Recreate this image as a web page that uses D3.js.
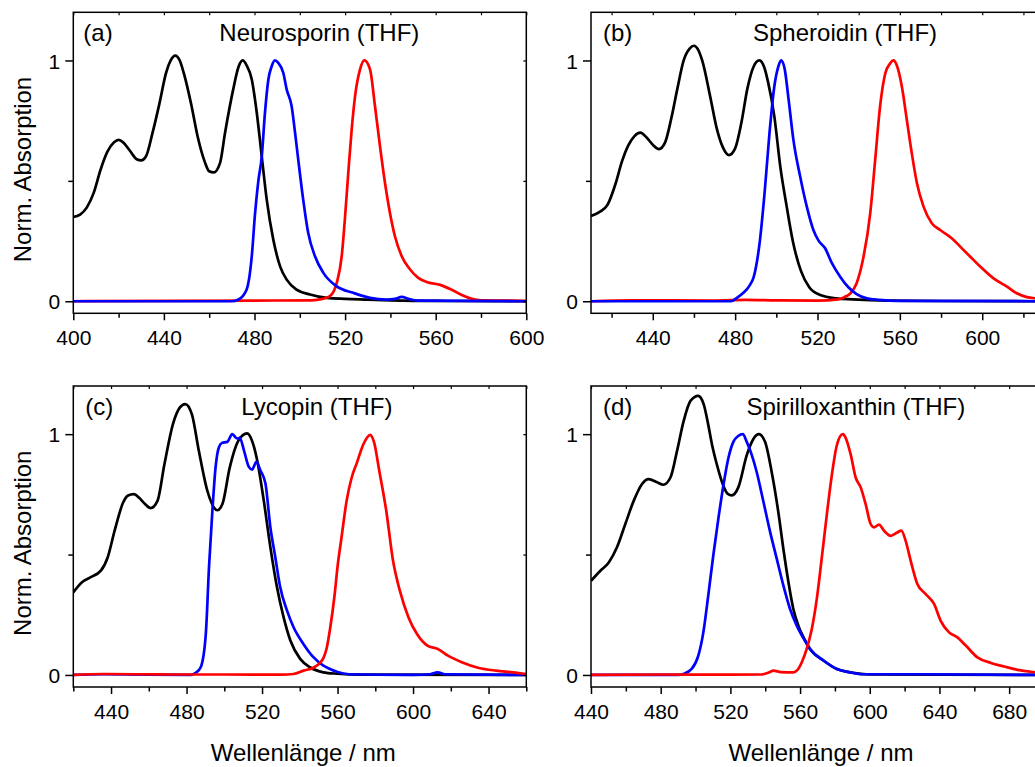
<!DOCTYPE html>
<html>
<head>
<meta charset="utf-8">
<script src="https://cdn.jsdelivr.net/npm/d3@7"></script>
<style>
  html, body { margin: 0; padding: 0; background: #fff; }
  svg { display: block; }
  text { font-family: "Liberation Sans", Arial, sans-serif; fill: #000; }
</style>
</head>
<body>
<svg id="chart" width="1035" height="767"></svg>
<script>
// ---------------- data (wavelength nm, normalized value) ----------------
const panelLabels = ["(a)", "(b)", "(c)", "(d)"];
const panelTitles = ["Neurosporin (THF)", "Spheroidin (THF)", "Lycopin (THF)", "Spirilloxanthin (THF)"];
const xDomains = [[400, 600], [410, 630], [420, 660], [440, 700]];
const xMajorTicks = [
  [400, 440, 480, 520, 560, 600],
  [440, 480, 520, 560, 600],
  [440, 480, 520, 560, 600, 640],
  [440, 480, 520, 560, 600, 640, 680]
];
const yMajorTicks = [0, 1];
const yMinorTicks = [0.5];
const xAxisTitle = "Wellenlänge / nm";
const yAxisTitle = "Norm. Absorption";

// Neurosporin
const neuroAbs = [[400,0.35],[403,0.36],[406,0.39],[409,0.45],[412,0.545],[415,0.62],[418,0.66],[420,0.67],[422,0.66],[425,0.625],[428,0.59],[430,0.585],[432,0.60],[435,0.70],[438,0.82],[441,0.95],[443,1.0],[445,1.02],[447,1.0],[449,0.94],[452,0.82],[455,0.68],[458,0.58],[460,0.54],[462,0.535],[464.8,0.575],[467,0.70],[470.6,0.88],[473,0.975],[474.8,1.0],[476.5,0.98],[478.8,0.921],[481,0.783],[483.2,0.602],[485.4,0.422],[488.3,0.256],[491.3,0.145],[494.2,0.09],[498.6,0.048],[504.5,0.028],[511.9,0.014],[520,0.01],[530,0.007],[540,0.004],[550,0.002],[565,0.001],[600,0]];
const neuroBlue = [[400,0],[470,0],[472.9,0.007],[476.5,0.048],[478.8,0.187],[480.2,0.36],[481.7,0.50],[483.2,0.60],[484.6,0.78],[486.1,0.92],[487.6,0.976],[489,1.0],[490.5,0.99],[492.7,0.949],[494.2,0.88],[496.4,0.81],[497.9,0.70],[499.3,0.589],[501.5,0.422],[503.7,0.284],[506.7,0.187],[510.4,0.118],[516.3,0.062],[523.6,0.035],[531,0.014],[538.3,0.007],[542,0.01],[545,0.018],[548,0.01],[552,0.003],[600,0]];
const neuroRed = [[400,0],[480,0.003],[505,0.004],[510,0.01],[513.3,0.021],[516.3,0.076],[518.5,0.187],[520,0.353],[521.4,0.533],[522.9,0.713],[524.4,0.852],[526.6,0.963],[528.5,1.0],[531,0.963],[533.2,0.81],[535.4,0.644],[537.6,0.492],[539.8,0.367],[542,0.27],[545,0.187],[548.7,0.132],[552.3,0.097],[556,0.08],[562,0.068],[567,0.048],[572,0.024],[576,0.01],[580,0.004],[600,0.002]];

// Spheroidin
const spheroAbs = [[410,0.354],[414,0.37],[418,0.40],[422,0.49],[425,0.58],[428,0.645],[431,0.685],[434,0.70],[437,0.68],[440,0.65],[443,0.632],[446,0.66],[449,0.76],[452,0.885],[455,1.0],[458,1.05],[460,1.061],[462,1.045],[464,1.0],[468,0.845],[471,0.72],[474,0.64],[477,0.607],[480,0.635],[483,0.74],[486,0.885],[489,0.975],[491.7,1.0],[494,0.975],[496,0.91],[499,0.77],[502,0.555],[505,0.395],[508,0.25],[512,0.125],[516,0.058],[521,0.027],[529,0.012],[537,0.008],[554,0.003],[580,0.001],[630,0]];
const spheroBlue = [[410,0],[478,0],[481,0.015],[484,0.035],[487,0.065],[489,0.10],[492,0.25],[494.5,0.47],[496.7,0.70],[499,0.89],[501,0.975],[502.3,1.0],[504,0.967],[506,0.835],[508.3,0.67],[511.6,0.517],[514.8,0.393],[518,0.296],[520.5,0.252],[523.7,0.22],[527,0.158],[531,0.102],[535,0.058],[539,0.03],[544,0.012],[550,0.006],[560,0.002],[630,0]];
const spheroRed = [[410,0],[430,0.004],[470,0.003],[485,0.006],[500,0.004],[520,0.003],[530,0.008],[533,0.017],[536,0.033],[539,0.075],[542,0.17],[545.6,0.365],[548,0.586],[550.4,0.81],[552.9,0.946],[555.3,0.988],[556.9,1.0],[558.5,0.98],[561,0.89],[563.4,0.752],[565.8,0.614],[568.3,0.49],[571.5,0.393],[575.5,0.324],[579.6,0.296],[585.3,0.261],[589.3,0.227],[594.2,0.185],[599,0.144],[605.5,0.095],[612,0.061],[616.8,0.033],[621.7,0.017],[626,0.012],[630,0.01]];

// Lycopin
const lycoAbs = [[420,0.343],[424.6,0.385],[429,0.405],[434.6,0.433],[438.2,0.488],[441.9,0.599],[446.4,0.716],[449,0.745],[452,0.751],[455,0.735],[458,0.71],[461,0.693],[464.6,0.723],[468.3,0.876],[472.8,1.042],[476.5,1.111],[479.3,1.125],[482.8,1.083],[486.5,0.931],[491,0.765],[496.3,0.684],[499,0.71],[502.9,0.862],[507.4,0.972],[512.1,1.003],[514.8,0.97],[517.4,0.892],[520.9,0.725],[524.4,0.531],[527.9,0.365],[531.4,0.24],[535,0.143],[540.2,0.067],[545.4,0.032],[552.5,0.011],[560,0.005],[573,0.001],[660,0]];
const lycoBlue = [[420,0],[436,0.003],[482.3,0],[485,0.01],[487.5,0.032],[490.2,0.17],[491.9,0.448],[493.7,0.684],[495.4,0.864],[497.2,0.947],[498.9,0.964],[501.6,0.968],[504.2,1.0],[506.8,0.982],[508.2,0.985],[510.4,0.933],[513,0.864],[514.7,0.853],[517,0.885],[519.1,0.85],[521.8,0.795],[524.4,0.614],[527,0.49],[529.6,0.365],[533.2,0.268],[536.7,0.198],[541.9,0.129],[547.2,0.074],[552.5,0.039],[556,0.025],[560,0.012],[566,0.003],[600,0],[609,0.003],[613,0.011],[617,0.003],[660,0]];
const lycoRed = [[420,0],[436,0.004],[470,0.002],[500,0.002],[530,0.001],[536.7,0.004],[542,0.018],[547.2,0.03],[550.7,0.05],[552.5,0.07],[554.2,0.11],[556,0.19],[558.4,0.33],[560,0.45],[562.1,0.571],[564.8,0.723],[567.5,0.82],[570.3,0.882],[573,0.945],[575.7,0.986],[577.2,0.997],[579.4,0.965],[582.1,0.848],[585.8,0.682],[589.4,0.474],[593,0.35],[597.6,0.239],[602.1,0.17],[607.6,0.122],[613.1,0.108],[618.5,0.08],[625.8,0.053],[634.9,0.029],[644,0.018],[653.1,0.011],[660,0.004]];

// Spirilloxanthin
const spiriAbs = [[440,0.391],[445.4,0.433],[450.2,0.467],[454.9,0.53],[459.7,0.627],[464.5,0.723],[469.3,0.793],[473.1,0.813],[477.9,0.80],[481.5,0.79],[485.6,0.82],[489.4,0.931],[493.2,1.055],[497.1,1.138],[501.5,1.159],[504.7,1.124],[507,1.05],[509.5,0.955],[512.2,0.875],[516,0.785],[518.5,0.752],[520.8,0.746],[524.6,0.78],[529.4,0.913],[533.2,0.98],[536.4,1.0],[539.9,0.968],[543.7,0.843],[547.5,0.677],[550.4,0.524],[553.3,0.386],[556.1,0.275],[559,0.205],[561.9,0.157],[565.7,0.108],[573.4,0.06],[581.1,0.025],[588.7,0.011],[600,0.002],[700,0]];
const spiriBlue = [[440,0],[490,0],[493,0.004],[497.8,0.025],[501.6,0.08],[504.5,0.178],[507.3,0.33],[510.2,0.497],[513.1,0.649],[516,0.788],[518.8,0.899],[521.7,0.968],[524.6,0.993],[527.1,1.0],[529.4,0.968],[532.3,0.913],[535.1,0.843],[539,0.718],[542.8,0.594],[546.6,0.483],[550.4,0.372],[554.2,0.275],[558.1,0.205],[561.9,0.153],[565.7,0.108],[573.4,0.06],[581.1,0.025],[588.7,0.011],[596,0.003],[620,0.003],[700,0]];
const spiriRed = [[440,0],[480,0.002],[520,0.001],[538,0.002],[542,0.01],[544.7,0.018],[549,0.012],[556.1,0.011],[558.4,0.02],[561,0.053],[563.8,0.108],[566.7,0.19],[569.6,0.316],[572.4,0.483],[575.3,0.663],[578.2,0.829],[581.1,0.954],[584.5,1.0],[586.1,0.986],[589,0.917],[591.9,0.82],[594.8,0.779],[597.6,0.71],[600.5,0.627],[602.4,0.613],[605.3,0.624],[608.2,0.599],[612,0.578],[615.8,0.592],[618.1,0.599],[620.6,0.557],[623.5,0.474],[627.3,0.378],[632.1,0.336],[636.9,0.295],[640.7,0.225],[645.5,0.177],[650.3,0.156],[655.1,0.122],[661.8,0.073],[669.5,0.05],[677.1,0.035],[684.8,0.021],[695.3,0.011],[700,0.009]];

const panelSeries = [
  [neuroAbs, neuroRed, neuroBlue],
  [spheroAbs, spheroRed, spheroBlue],
  [lycoAbs, lycoBlue, lycoRed],
  [spiriAbs, spiriBlue, spiriRed]
];
const panelColors = [
  ["#000000", "#ff0000", "#0000ff"],
  ["#000000", "#ff0000", "#0000ff"],
  ["#000000", "#0000ff", "#ff0000"],
  ["#000000", "#0000ff", "#ff0000"]
];

// ---------------- layout ----------------
const svg = d3.select("#chart");
const W = 453, H = 301;
const lefts = [73.3, 591, 73.3, 591];
const tops = [12.3, 12.3, 386, 386];
const labelOffsets = [10, 12, 12, 12];
const titleOffsets = [146, 162, 168, 155.5];
const FONT = '"Liberation Sans", Arial, sans-serif';

panelTitles.forEach((title, i) => {
  const g = svg.append("g").attr("transform", `translate(${lefts[i]},${tops[i]})`);
  const x = d3.scaleLinear().domain(xDomains[i]).range([0, W]);
  const y = d3.scaleLinear().domain([-0.05, 1.2]).range([H, 0]);

  const clipId = "clip" + i;
  g.append("clipPath").attr("id", clipId).append("rect").attr("width", W).attr("height", H);

  // curves
  const line = d3.line().x(d => x(d[0])).y(d => y(d[1])).curve(d3.curveMonotoneX);
  const cg = g.append("g").attr("clip-path", `url(#${clipId})`);
  panelSeries[i].forEach((s, k) => {
    cg.append("path").datum(s).attr("d", line)
      .attr("fill", "none").attr("stroke", panelColors[i][k])
      .attr("stroke-width", 2.7).attr("stroke-linejoin", "round");
  });

  // minor x ticks every 20
  const [x0, x1] = xDomains[i];
  const allX = d3.range(Math.ceil(x0 / 20) * 20, x1 + 0.001, 20);
  const minorX = allX.filter(v => xMajorTicks[i].indexOf(v) < 0);

  // bottom axis
  const bx = g.append("g").attr("transform", `translate(0,${H})`)
    .call(d3.axisBottom(x).tickValues(xMajorTicks[i]).tickSize(7).tickPadding(10).tickFormat(d3.format("d")));
  bx.select(".domain").remove();
  bx.selectAll("line").attr("stroke", "#000").attr("stroke-width", 1.5);
  bx.selectAll("text").style("font-family", FONT).style("font-size", "21px").attr("fill", "#000");
  const bxm = g.append("g").attr("transform", `translate(0,${H})`)
    .call(d3.axisBottom(x).tickValues(minorX).tickSize(4.5).tickFormat(""));
  bxm.select(".domain").remove();
  bxm.selectAll("line").attr("stroke", "#000").attr("stroke-width", 1.5);

  // top axis (inward ticks)
  const tx = g.append("g").call(d3.axisTop(x).tickValues(allX).tickSize(-3).tickFormat(""));
  tx.select(".domain").remove();
  tx.selectAll("line").attr("stroke", "#000").attr("stroke-width", 1.2);

  // left axis
  const ly = g.append("g")
    .call(d3.axisLeft(y).tickValues(yMajorTicks).tickSize(8).tickFormat(d3.format("d")));
  ly.select(".domain").remove();
  ly.selectAll("line").attr("stroke", "#000").attr("stroke-width", 1.5);
  ly.selectAll("text").style("font-family", FONT).style("font-size", "21px")
    .attr("text-anchor", "middle").attr("x", -19).attr("dy", "0.36em").attr("fill", "#000");
  const lym = g.append("g").call(d3.axisLeft(y).tickValues(yMinorTicks).tickSize(5).tickFormat(""));
  lym.select(".domain").remove();
  lym.selectAll("line").attr("stroke", "#000").attr("stroke-width", 1.5);

  // right axis (inward ticks)
  const ry = g.append("g").attr("transform", `translate(${W},0)`)
    .call(d3.axisRight(y).tickValues(yMajorTicks.concat(yMinorTicks)).tickSize(-3).tickFormat(""));
  ry.select(".domain").remove();
  ry.selectAll("line").attr("stroke", "#000").attr("stroke-width", 1.2);

  // frame
  g.append("rect").attr("width", W).attr("height", H)
    .attr("fill", "none").attr("stroke", "#000").attr("stroke-width", 1.5);

  // panel label and title
  g.append("text").attr("x", labelOffsets[i]).attr("y", 29)
    .style("font-size", "24px").text(panelLabels[i]);
  g.append("text").attr("x", titleOffsets[i]).attr("y", 29)
    .style("font-size", "24px").text(title);

  // axis titles
  if (i % 2 === 0) {
    g.append("text")
      .attr("transform", `translate(${30.5 - lefts[i]},${y(0.547)}) rotate(-90)`)
      .attr("text-anchor", "middle").style("font-size", "24px").text(yAxisTitle);
  }
  if (i >= 2) {
    g.append("text").attr("x", W / 2 + 3.5).attr("y", 760.5 - tops[i])
      .attr("text-anchor", "middle").style("font-size", "24px").text(xAxisTitle);
  }
});
</script>
</body>
</html>
